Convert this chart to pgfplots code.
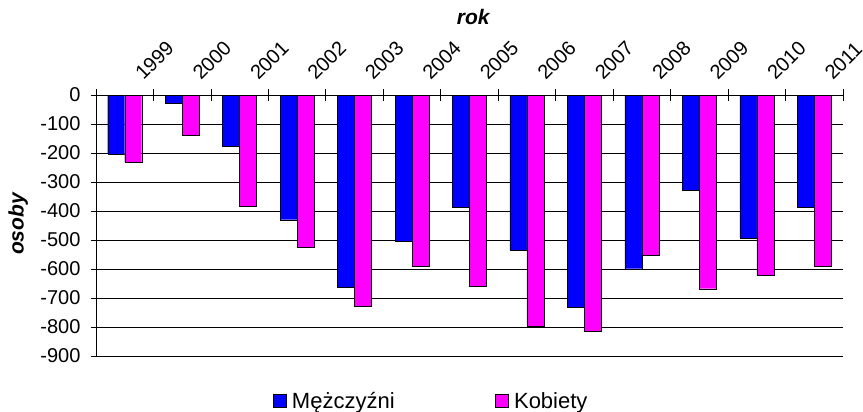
\documentclass[border=0pt]{standalone}
\usepackage{fontspec}
\setmainfont{Liberation Sans}
\usepackage{pgfplots}
\pgfplotsset{compat=1.18}
\definecolor{mblue}{RGB}{0,0,255}
\definecolor{kmag}{RGB}{255,0,255}
\begin{document}
\begin{tikzpicture}
\begin{axis}[
  scale only axis, width=747pt, height=261pt,
  ybar=0pt, bar width=17pt,
  xmin=-0.5, xmax=12.5, ymin=-900, ymax=0,
  axis x line*=top, axis y line*=left,
  x axis line style={-}, y axis line style={-},
  xtick={0,...,12},
  xticklabels={1999,2000,2001,2002,2003,2004,2005,2006,2007,2008,2009,2010,2011},
  major x tick style={draw=none},
  minor xtick={-0.5,0.5,...,12.5},
  minor tick length=12pt, major tick length=10pt, tick align=center,
  xticklabel pos=upper,
  xticklabel style={xshift=19pt, yshift=4pt, rotate=45, anchor=south west, font=\fontsize{20}{23}\selectfont},
  ytick={-900,-800,...,0},
  yticklabel style={xshift=-7pt, font=\fontsize{20}{23}\selectfont},
  /pgf/number format/assume math mode=true,
  ymajorgrids, grid style={black, line width=0.6pt},
  axis line style={black, line width=0.8pt},
  tick style={black, line width=0.8pt},
  title={rok},
  title style={at={(axis description cs:0.505,1.276)}, anchor=center, font=\fontsize{21}{25}\selectfont\bfseries\itshape},
  ylabel={osoby},
  ylabel style={at={(axis description cs:-0.104,0.506)}, anchor=center, font=\fontsize{21}{25}\selectfont\bfseries\itshape},
  legend style={at={(axis description cs:0.4485,-0.173)}, anchor=center, draw=none, legend columns=2,
    font=\fontsize{22}{26}\selectfont,
    /tikz/every odd column/.append style={column sep=4pt},
    /tikz/every even column/.append style={column sep=98pt}},
  legend image code/.code={\draw[#1, draw=black] (0pt,-6.5pt) rectangle (13pt,6.5pt);},
]
\addplot[fill=mblue, draw=black] coordinates {(0,-203) (1,-29) (2,-177) (3,-430) (4,-663) (5,-503) (6,-387) (7,-534) (8,-733) (9,-599) (10,-327) (11,-493) (12,-387)};
\addlegendentry{Mężczyźni}
\addplot[fill=kmag, draw=black] coordinates {(0,-231) (1,-139) (2,-383) (3,-525) (4,-729) (5,-590) (6,-660) (7,-798) (8,-815) (9,-553) (10,-668) (11,-623) (12,-590)};
\addlegendentry{Kobiety}
\end{axis}
\pgfresetboundingbox
\path ([xshift=-96pt,yshift=-56pt]current axis.south west) rectangle ([xshift=767pt,yshift=356pt]current axis.south west);
\end{tikzpicture}
\end{document}
